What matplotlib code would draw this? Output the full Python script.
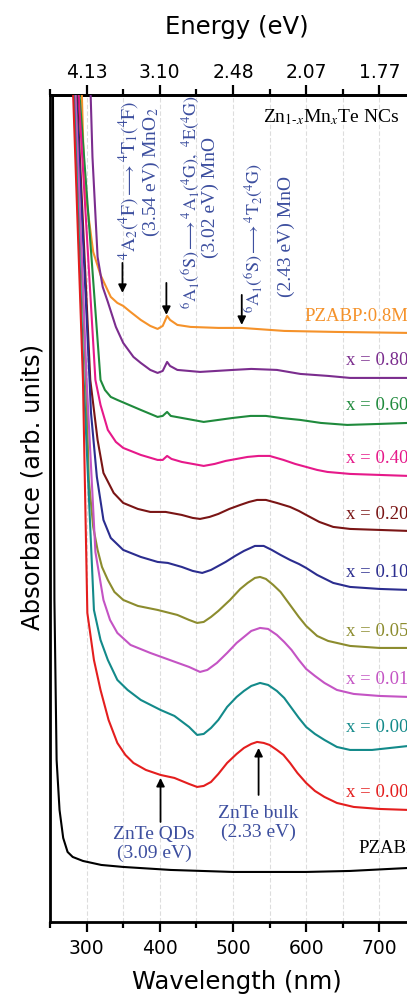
import matplotlib
matplotlib.use("Agg")
import matplotlib.pyplot as plt
from matplotlib.ticker import MultipleLocator

plt.rcParams['mathtext.fontset'] = 'stix'

# spectra (wavelength in nm, absorbance in arb. units, already offset)
wl_mn08 = [293, 297, 309, 319, 333, 342, 350, 360, 374, 387, 397, 404, 410, 414, 424, 442, 480, 512, 570, 640, 740, 800]
abs_mn08 = [8.40, 7.37, 6.70, 6.47, 6.25, 6.19, 6.16, 6.10, 6.02, 5.96, 5.93, 5.96, 6.06, 6.02, 5.97, 5.95, 5.94, 5.94, 5.91, 5.90, 5.89, 5.88]

wl_x0800 = [305, 308, 315, 322, 329, 340, 350, 364, 374, 387, 397, 404, 410, 414, 424, 455, 500, 525, 560, 592, 630, 660, 740, 800]
abs_x0800 = [8.40, 7.65, 6.65, 6.35, 6.20, 5.95, 5.79, 5.65, 5.59, 5.52, 5.49, 5.51, 5.60, 5.56, 5.52, 5.50, 5.52, 5.53, 5.52, 5.48, 5.46, 5.44, 5.44, 5.44]

wl_x0600 = [289, 319, 325, 333, 342, 374, 397, 404, 410, 415, 430, 445, 460, 480, 500, 524, 545, 565, 592, 620, 656, 700, 740, 800]
abs_x0600 = [8.40, 5.42, 5.32, 5.25, 5.22, 5.12, 5.05, 5.06, 5.10, 5.06, 5.04, 5.02, 5.00, 5.02, 5.04, 5.06, 5.06, 5.04, 5.02, 4.99, 4.97, 4.98, 4.99, 4.99]

wl_x0400 = [288, 312, 319, 329, 340, 350, 374, 397, 404, 410, 416, 430, 445, 460, 475, 490, 505, 520, 535, 550, 569, 585, 600, 615, 629, 660, 700, 740, 800]
abs_x0400 = [8.40, 5.42, 5.17, 4.92, 4.80, 4.74, 4.67, 4.62, 4.62, 4.66, 4.63, 4.60, 4.58, 4.56, 4.58, 4.61, 4.63, 4.65, 4.66, 4.66, 4.62, 4.58, 4.55, 4.52, 4.50, 4.48, 4.47, 4.46, 4.46]

wl_x0200 = [286, 305, 315, 323, 337, 350, 370, 387, 408, 430, 445, 455, 468, 480, 495, 510, 522, 533, 545, 560, 578, 590, 600, 618, 637, 660, 700, 740, 800]
abs_x0200 = [8.40, 5.42, 4.82, 4.49, 4.29, 4.19, 4.13, 4.10, 4.10, 4.07, 4.04, 4.03, 4.05, 4.08, 4.13, 4.17, 4.20, 4.22, 4.22, 4.19, 4.15, 4.11, 4.07, 4.00, 3.95, 3.93, 3.92, 3.91, 3.90]

wl_x0100 = [285, 304, 306, 314, 323, 333, 350, 374, 397, 411, 430, 445, 458, 470, 480, 490, 503, 515, 530, 542, 553, 565, 578, 590, 600, 615, 637, 660, 700, 740, 800]
abs_x0100 = [8.40, 5.42, 5.09, 4.45, 4.02, 3.84, 3.72, 3.65, 3.60, 3.59, 3.55, 3.51, 3.49, 3.52, 3.56, 3.60, 3.66, 3.71, 3.76, 3.76, 3.72, 3.67, 3.62, 3.58, 3.54, 3.47, 3.39, 3.35, 3.33, 3.32, 3.32]

wl_x0050 = [284, 299, 303, 309, 315, 321, 329, 338, 350, 370, 397, 424, 440, 451, 460, 470, 480, 496, 510, 520, 530, 537, 545, 555, 565, 580, 590, 600, 615, 630, 642, 660, 700, 740, 800]
abs_x0050 = [8.40, 5.42, 4.42, 3.95, 3.72, 3.55, 3.42, 3.30, 3.22, 3.16, 3.12, 3.07, 3.02, 2.99, 3.00, 3.05, 3.11, 3.22, 3.33, 3.39, 3.44, 3.45, 3.43, 3.37, 3.30, 3.15, 3.05, 2.96, 2.86, 2.81, 2.79, 2.76, 2.74, 2.74, 2.73]

wl_x0010 = [284, 300, 312, 323, 332, 342, 360, 387, 421, 440, 455, 465, 478, 492, 505, 515, 525, 537, 548, 560, 570, 580, 590, 600, 612, 625, 642, 665, 700, 740, 800]
abs_x0010 = [8.40, 5.42, 3.70, 3.22, 3.02, 2.89, 2.77, 2.69, 2.60, 2.55, 2.50, 2.52, 2.59, 2.69, 2.79, 2.85, 2.91, 2.94, 2.93, 2.87, 2.80, 2.72, 2.62, 2.53, 2.46, 2.39, 2.32, 2.28, 2.26, 2.25, 2.25]

wl_x0005 = [282, 296, 310, 319, 329, 342, 356, 374, 401, 420, 440, 451, 460, 470, 480, 492, 505, 515, 525, 537, 548, 560, 570, 580, 590, 600, 612, 625, 642, 660, 690, 740, 800]
abs_x0005 = [8.40, 5.42, 3.12, 2.82, 2.62, 2.42, 2.32, 2.22, 2.12, 2.06, 1.95, 1.87, 1.88, 1.94, 2.02, 2.15, 2.25, 2.31, 2.36, 2.39, 2.37, 2.31, 2.24, 2.14, 2.04, 1.95, 1.88, 1.82, 1.75, 1.72, 1.72, 1.76, 1.77]

wl_x0000 = [281, 295, 301, 310, 319, 330, 342, 353, 364, 381, 401, 420, 440, 451, 460, 470, 480, 492, 505, 515, 525, 533, 542, 550, 560, 569, 578, 588, 600, 612, 625, 642, 665, 700, 740, 800]
abs_x0000 = [8.40, 5.42, 3.09, 2.62, 2.32, 2.02, 1.79, 1.67, 1.59, 1.52, 1.47, 1.44, 1.38, 1.35, 1.36, 1.40, 1.48, 1.59, 1.68, 1.74, 1.78, 1.80, 1.79, 1.77, 1.72, 1.67, 1.59, 1.49, 1.39, 1.31, 1.25, 1.19, 1.15, 1.13, 1.12, 1.12]

wl_pzabp = [254, 256, 259, 263, 268, 274, 281, 295, 320, 350, 415, 500, 600, 660, 740, 800]
abs_pzabp = [8.40, 3.22, 1.62, 1.12, 0.84, 0.70, 0.65, 0.61, 0.57, 0.55, 0.52, 0.50, 0.50, 0.51, 0.54, 0.56]

sample_labels = ["PZABP:0.8Mn", "x = 0.800", "x = 0.600", "x = 0.400", "x = 0.200",
                 "x = 0.100", "x = 0.050", "x = 0.010", "x = 0.005", "x = 0.000", "PZABP"]

wl_ticks = [300, 400, 500, 600, 700]
energy_labels = ["4.13", "3.10", "2.48", "2.07", "1.77"]

series = [
    (wl_mn08, abs_mn08, "#f5922a"),
    (wl_x0800, abs_x0800, "#7b2d8e"),
    (wl_x0600, abs_x0600, "#1f8a3c"),
    (wl_x0400, abs_x0400, "#e6198a"),
    (wl_x0200, abs_x0200, "#7a1515"),
    (wl_x0100, abs_x0100, "#2b2d8f"),
    (wl_x0050, abs_x0050, "#8c8c2e"),
    (wl_x0010, abs_x0010, "#c454c4"),
    (wl_x0005, abs_x0005, "#138a8a"),
    (wl_x0000, abs_x0000, "#e41e1e"),
    (wl_pzabp, abs_pzabp, "black"),
]

serif = "Liberation Serif"
blue = "#3d4f9f"

fig = plt.figure(figsize=(4.07, 9.98), dpi=100)
ax = fig.add_axes([0.1229, 0.0762, 0.917, 0.8287])

for (wl, ab, col), lab in zip(series, sample_labels):
    ax.plot(wl, ab, color=col, lw=1.5, zorder=3)
    ax.text(752, ab[-1] + 0.17, lab, color=col, fontsize=13.5, family=serif,
            ha="right", va="center")

ax.set_xlim(250, 760)
ax.set_ylim(0, 8.27)
ax.set_yticks([])
ax.set_xticks(wl_ticks)
ax.xaxis.set_minor_locator(MultipleLocator(50))
ax.tick_params(axis="x", which="major", direction="out", length=7, width=1.6,
               labelsize=13.5, pad=5.5)
ax.tick_params(axis="x", which="minor", direction="out", length=4.5, width=1.6)
ax.grid(axis="x", which="both", color="#dddddd", lw=0.8, ls=(0, (4, 2)), zorder=0)
for s in ax.spines.values():
    s.set_linewidth(2)

ax.set_xlabel("Wavelength (nm)", fontsize=17.5)
ax.xaxis.set_label_coords(0.5, -0.058)
ax.set_ylabel("Absorbance (arb. units)", fontsize=17.5)
ax.yaxis.set_label_coords(-0.015, 0.526)

top = ax.secondary_xaxis("top")
top.set_xticks(wl_ticks, energy_labels)
top.xaxis.set_minor_locator(MultipleLocator(50))
top.tick_params(axis="x", which="major", direction="out", length=7, width=1.6,
                labelsize=13.5, pad=2.5)
top.tick_params(axis="x", which="minor", direction="out", length=4.5, width=1.6)
top.spines["top"].set_linewidth(2)
ax.text(0.5, 1.082, "Energy (eV)", transform=ax.transAxes, fontsize=17.5,
        ha="center", va="center")

ax.text(541, 8.05, r"Zn$_{1\text{-}x}$Mn$_x$Te NCs", fontsize=14, family=serif,
        ha="left", va="center")

# Mn transitions
ax.text(359, 7.42, r"$^{4}\mathrm{A}_{2}({}^{4}\mathrm{F})\longrightarrow{}^{4}\mathrm{T}_{1}({}^{4}\mathrm{F})$",
        rotation=90, ha="center", va="center", color=blue, fontsize=14)
ax.text(389, 7.50, r"(3.54 eV) MnO$_2$", rotation=90, ha="center", va="center",
        color=blue, fontsize=14, family=serif)
ax.text(442, 7.20, r"$^{6}\mathrm{A}_{1}({}^{6}\mathrm{S})\longrightarrow{}^{4}\mathrm{A}_{1}({}^{4}\mathrm{G}),\ {}^{4}\mathrm{E}({}^{4}\mathrm{G})$",
        rotation=90, ha="center", va="center", color=blue, fontsize=13)
ax.text(469, 7.24, "(3.02 eV) MnO", rotation=90, ha="center", va="center",
        color=blue, fontsize=14, family=serif)
ax.text(528, 6.84, r"$^{6}\mathrm{A}_{1}({}^{6}\mathrm{S})\longrightarrow{}^{4}\mathrm{T}_{2}({}^{4}\mathrm{G})$",
        rotation=90, ha="center", va="center", color=blue, fontsize=13)
ax.text(573, 6.85, "(2.43 eV) MnO", rotation=90, ha="center", va="center",
        color=blue, fontsize=14, family=serif)

arrow = dict(arrowstyle="-|>", color="black", lw=1.3, mutation_scale=12, shrinkA=0, shrinkB=0)
ax.annotate("", xy=(349, 6.29), xytext=(349, 6.59), arrowprops=arrow, zorder=4)
ax.annotate("", xy=(409, 6.07), xytext=(409, 6.39), arrowprops=arrow, zorder=4)
ax.annotate("", xy=(512, 5.97), xytext=(512, 6.27), arrowprops=arrow, zorder=4)
ax.annotate("", xy=(401, 1.44), xytext=(401, 1.00), arrowprops=arrow, zorder=4)
ax.annotate("", xy=(535, 1.74), xytext=(535, 1.27), arrowprops=arrow, zorder=4)

ax.text(392, 0.78, "ZnTe QDs\n(3.09 eV)", ha="center", va="center", color=blue,
        fontsize=14, family=serif, linespacing=1.1)
ax.text(535, 0.99, "ZnTe bulk\n(2.33 eV)", ha="center", va="center", color=blue,
        fontsize=14, family=serif, linespacing=1.1)

fig.savefig("out.png", dpi=100)
